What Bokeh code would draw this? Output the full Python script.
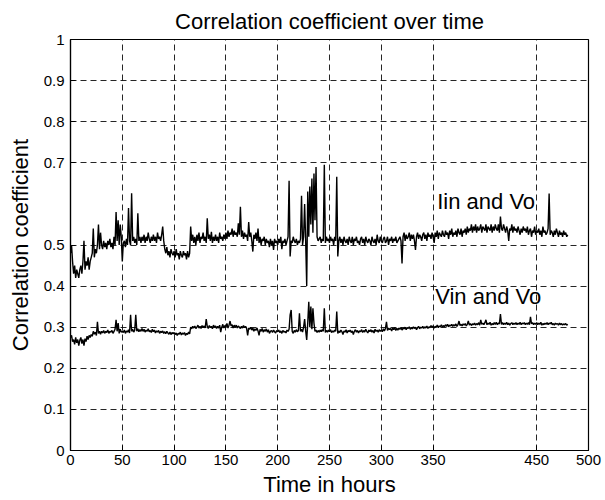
from bokeh.plotting import figure
from bokeh.models import Range1d, FixedTicker, CustomJSTickFormatter, ColumnDataSource
from bokeh.core.properties import value
from bokeh.embed import file_html
from bokeh.resources import INLINE

# ---- data, one value per hour ----
hours = list(range(0, 481))

iin_vo = [
    0.48, 0.50, 0.46, 0.43, 0.45, 0.42, 0.44, 0.43, 0.42, 0.44,
    0.45, 0.43, 0.46, 0.51, 0.44, 0.46, 0.45, 0.47, 0.44, 0.46,
    0.47, 0.48, 0.54, 0.47, 0.49, 0.48, 0.50, 0.55, 0.49, 0.53,
    0.50, 0.49, 0.51, 0.495, 0.505, 0.49, 0.51, 0.50, 0.515, 0.495,
    0.505, 0.49, 0.52, 0.50, 0.58, 0.51, 0.56, 0.50, 0.55, 0.52,
    0.46, 0.505, 0.51, 0.495, 0.515, 0.50, 0.59, 0.51, 0.50, 0.626,
    0.51, 0.52, 0.505, 0.515, 0.50, 0.577, 0.51, 0.52, 0.505, 0.52,
    0.51, 0.525, 0.505, 0.52, 0.51, 0.53, 0.515, 0.505, 0.52, 0.51,
    0.525, 0.51, 0.52, 0.505, 0.53, 0.515, 0.52, 0.51, 0.525, 0.545,
    0.51, 0.49, 0.48, 0.495, 0.475, 0.485, 0.47, 0.49, 0.48, 0.475,
    0.485, 0.47, 0.49, 0.475, 0.48, 0.465, 0.485, 0.475, 0.47, 0.485,
    0.475, 0.48, 0.465, 0.485, 0.47, 0.48, 0.545, 0.51, 0.525, 0.505,
    0.52, 0.50, 0.525, 0.51, 0.53, 0.505, 0.52, 0.515, 0.53, 0.51,
    0.52, 0.505, 0.565, 0.515, 0.525, 0.51, 0.532, 0.505, 0.52, 0.51,
    0.525, 0.51, 0.52, 0.505, 0.53, 0.515, 0.52, 0.51, 0.525, 0.515,
    0.53, 0.515, 0.535, 0.52, 0.53, 0.525, 0.54, 0.52, 0.535, 0.525,
    0.53, 0.52, 0.553, 0.525, 0.593, 0.52, 0.535, 0.515, 0.53, 0.52,
    0.525, 0.51, 0.556, 0.52, 0.53, 0.51, 0.484, 0.525, 0.515, 0.53,
    0.51, 0.54, 0.505, 0.52, 0.50, 0.515, 0.51, 0.52, 0.50, 0.515,
    0.505, 0.51, 0.495, 0.515, 0.50, 0.51, 0.488, 0.515, 0.505, 0.51,
    0.50, 0.515, 0.505, 0.52, 0.49, 0.51, 0.505, 0.515, 0.50, 0.51,
    0.52, 0.656, 0.472, 0.51, 0.505, 0.52, 0.51, 0.505, 0.515, 0.50,
    0.51, 0.505, 0.515, 0.62, 0.50, 0.52, 0.60, 0.51, 0.40, 0.63,
    0.52, 0.642, 0.55, 0.662, 0.53, 0.674, 0.56, 0.69, 0.52, 0.51,
    0.515, 0.52, 0.505, 0.515, 0.51, 0.695, 0.505, 0.52, 0.51, 0.515,
    0.505, 0.52, 0.51, 0.515, 0.50, 0.52, 0.51, 0.666, 0.472, 0.51,
    0.52, 0.505, 0.515, 0.50, 0.52, 0.51, 0.505, 0.515, 0.50, 0.52,
    0.51, 0.505, 0.52, 0.50, 0.515, 0.51, 0.52, 0.505, 0.51, 0.50,
    0.515, 0.52, 0.505, 0.515, 0.50, 0.52, 0.51, 0.505, 0.515, 0.51,
    0.50, 0.52, 0.51, 0.505, 0.515, 0.50, 0.525, 0.51, 0.505, 0.52,
    0.51, 0.505, 0.515, 0.52, 0.505, 0.51, 0.52, 0.50, 0.515, 0.51,
    0.52, 0.505, 0.515, 0.51, 0.52, 0.505, 0.51, 0.515, 0.52, 0.51,
    0.455, 0.52, 0.53, 0.51, 0.525, 0.515, 0.52, 0.53, 0.51, 0.525,
    0.515, 0.525, 0.51, 0.488, 0.52, 0.53, 0.515, 0.525, 0.52, 0.51,
    0.525, 0.53, 0.515, 0.525, 0.51, 0.53, 0.52, 0.525, 0.515, 0.53,
    0.52, 0.505, 0.53, 0.52, 0.535, 0.515, 0.53, 0.525, 0.52, 0.535,
    0.525, 0.52, 0.535, 0.525, 0.53, 0.515, 0.535, 0.525, 0.54, 0.52,
    0.53, 0.525, 0.535, 0.52, 0.54, 0.53, 0.525, 0.54, 0.52, 0.535,
    0.53, 0.54, 0.525, 0.545, 0.53, 0.54, 0.535, 0.55, 0.53, 0.545,
    0.535, 0.55, 0.53, 0.545, 0.535, 0.54, 0.55, 0.53, 0.545, 0.54,
    0.535, 0.55, 0.53, 0.545, 0.54, 0.535, 0.55, 0.53, 0.545, 0.535,
    0.55, 0.54, 0.535, 0.55, 0.53, 0.569, 0.54, 0.535, 0.55, 0.54,
    0.53, 0.545, 0.535, 0.51, 0.54, 0.535, 0.55, 0.53, 0.545, 0.535,
    0.54, 0.53, 0.545, 0.535, 0.525, 0.54, 0.53, 0.545, 0.535, 0.54,
    0.53, 0.545, 0.525, 0.535, 0.54, 0.52, 0.535, 0.53, 0.545, 0.525,
    0.535, 0.53, 0.54, 0.525, 0.535, 0.52, 0.545, 0.53, 0.535, 0.525,
    0.53, 0.54, 0.625, 0.525, 0.535, 0.53, 0.52, 0.535, 0.525, 0.54,
    0.53, 0.52, 0.535, 0.525, 0.53, 0.52, 0.535, 0.525, 0.53, 0.52,
    0.525,
]

vin_vo = [
    0.275, 0.28, 0.265, 0.27, 0.258, 0.275, 0.262, 0.27, 0.255, 0.268,
    0.275, 0.26, 0.27, 0.255, 0.272, 0.265, 0.278, 0.27, 0.28, 0.275,
    0.282, 0.278, 0.29, 0.283, 0.288, 0.28, 0.313, 0.285, 0.29, 0.283,
    0.29, 0.286, 0.292, 0.285, 0.29, 0.287, 0.293, 0.285, 0.29, 0.288,
    0.292, 0.285, 0.29, 0.295, 0.318, 0.29, 0.31, 0.285, 0.295, 0.288,
    0.29, 0.287, 0.293, 0.285, 0.291, 0.288, 0.294, 0.286, 0.33, 0.29,
    0.295, 0.288, 0.293, 0.33, 0.29, 0.296, 0.289, 0.294, 0.29, 0.297,
    0.29, 0.295, 0.288, 0.293, 0.29, 0.296, 0.289, 0.292, 0.287, 0.295,
    0.289, 0.293, 0.286, 0.291, 0.288, 0.292, 0.285, 0.29, 0.287, 0.291,
    0.285, 0.289, 0.284, 0.29, 0.286, 0.283, 0.288, 0.282, 0.287, 0.284,
    0.287, 0.282, 0.286, 0.28, 0.285, 0.283, 0.288, 0.281, 0.286, 0.283,
    0.287, 0.28, 0.285, 0.282, 0.288, 0.284, 0.30, 0.296, 0.302, 0.298,
    0.303, 0.297, 0.30, 0.305, 0.298, 0.302, 0.297, 0.304, 0.299, 0.303,
    0.298, 0.32, 0.302, 0.297, 0.304, 0.299, 0.302, 0.296, 0.305, 0.30,
    0.303, 0.297, 0.302, 0.298, 0.305, 0.288, 0.30, 0.307, 0.298, 0.304,
    0.30, 0.309, 0.298, 0.305, 0.315, 0.303, 0.306, 0.298, 0.305, 0.30,
    0.305, 0.298, 0.303, 0.30, 0.297, 0.302, 0.298, 0.304, 0.299, 0.302,
    0.297, 0.28, 0.298, 0.295, 0.30, 0.293, 0.298, 0.29, 0.296, 0.292,
    0.298, 0.291, 0.28, 0.295, 0.29, 0.297, 0.288, 0.294, 0.29, 0.296,
    0.288, 0.294, 0.285, 0.29, 0.292, 0.287, 0.293, 0.289, 0.286, 0.292,
    0.289, 0.293, 0.287, 0.291, 0.285, 0.292, 0.288, 0.29, 0.286, 0.293,
    0.29, 0.295, 0.33, 0.342, 0.29, 0.285, 0.292, 0.288, 0.294, 0.289,
    0.292, 0.334, 0.29, 0.295, 0.288, 0.30, 0.32, 0.291, 0.269, 0.31,
    0.362, 0.30, 0.35, 0.295, 0.346, 0.31, 0.29, 0.293, 0.287, 0.292,
    0.288, 0.293, 0.289, 0.294, 0.29, 0.346, 0.287, 0.292, 0.288, 0.293,
    0.289, 0.294, 0.287, 0.291, 0.288, 0.293, 0.29, 0.338, 0.285, 0.291,
    0.287, 0.293, 0.289, 0.282, 0.291, 0.288, 0.294, 0.286, 0.292, 0.289,
    0.293, 0.287, 0.291, 0.282, 0.29, 0.294, 0.288, 0.292, 0.286, 0.291,
    0.289, 0.294, 0.287, 0.292, 0.288, 0.295, 0.29, 0.286, 0.293, 0.289,
    0.294, 0.288, 0.292, 0.286, 0.295, 0.29, 0.293, 0.288, 0.294, 0.29,
    0.293, 0.289, 0.296, 0.291, 0.297, 0.313, 0.292, 0.298, 0.294, 0.297,
    0.291, 0.298, 0.294, 0.299, 0.292, 0.297, 0.293, 0.298, 0.295, 0.299,
    0.293, 0.298, 0.296, 0.30, 0.294, 0.299, 0.297, 0.301, 0.295, 0.299,
    0.296, 0.301, 0.297, 0.30, 0.294, 0.299, 0.302, 0.296, 0.30, 0.298,
    0.302, 0.297, 0.301, 0.298, 0.303, 0.297, 0.301, 0.299, 0.304, 0.30,
    0.303, 0.298, 0.302, 0.30, 0.305, 0.299, 0.303, 0.301, 0.306, 0.30,
    0.304, 0.301, 0.306, 0.302, 0.307, 0.301, 0.305, 0.303, 0.307, 0.302,
    0.306, 0.303, 0.308, 0.302, 0.306, 0.315, 0.304, 0.307, 0.303, 0.308,
    0.305, 0.309, 0.303, 0.307, 0.315, 0.305, 0.309, 0.304, 0.308, 0.306,
    0.31, 0.305, 0.309, 0.306, 0.311, 0.305, 0.318, 0.307, 0.31, 0.306,
    0.311, 0.318, 0.306, 0.31, 0.307, 0.312, 0.305, 0.309, 0.306, 0.311,
    0.307, 0.312, 0.306, 0.31, 0.308, 0.332, 0.307, 0.311, 0.306, 0.31,
    0.307, 0.312, 0.306, 0.31, 0.305, 0.309, 0.311, 0.306, 0.31, 0.307,
    0.311, 0.306, 0.31, 0.307, 0.312, 0.306, 0.31, 0.308, 0.311, 0.306,
    0.31, 0.307, 0.311, 0.306, 0.325, 0.308, 0.311, 0.306, 0.31, 0.307,
    0.311, 0.306, 0.31, 0.307, 0.312, 0.305, 0.309, 0.306, 0.31, 0.307,
    0.311, 0.306, 0.31, 0.308, 0.312, 0.306, 0.309, 0.305, 0.31, 0.307,
    0.309, 0.305, 0.31, 0.306, 0.309, 0.305, 0.308, 0.306, 0.309, 0.305,
    0.307,
]

x_ticks = [0, 50, 100, 150, 200, 250, 300, 350, 450, 500]
y_ticks = [0, 0.1, 0.2, 0.3, 0.4, 0.5, 0.7, 0.8, 0.9, 1]

label_text = ["Iin and Vo", "Vin and Vo"]
label_x = [354, 352]
label_y = [0.605, 0.375]

assert len(iin_vo) == len(hours) and len(vin_vo) == len(hours)

FONT = "Liberation Sans"

p = figure(width=605, height=500, output_backend="svg", toolbar_location=None,
           x_range=Range1d(0, 500), y_range=Range1d(0, 1),
           title="Correlation coefficient over time")
p.min_border_left = 70
p.min_border_right = 17
p.min_border_top = 38
p.min_border_bottom = 50

p.title.align = "center"
p.title.text_font = FONT
p.title.text_font_size = "22px"
p.title.text_font_style = "normal"
p.title.text_color = "black"
p.title.standoff = 12

p.outline_line_color = "black"
p.outline_line_width = 1.2
p.outline_line_alpha = 1
p.background_fill_color = "white"
p.border_fill_color = "white"

fmt = CustomJSTickFormatter(code="return tick.toString();")
p.xaxis.ticker = FixedTicker(ticks=x_ticks)
p.yaxis.ticker = FixedTicker(ticks=y_ticks)
p.xaxis.formatter = fmt
p.yaxis.formatter = fmt

for ax in (p.xaxis[0], p.yaxis[0]):
    ax.major_tick_in = 5
    ax.major_tick_out = 0
    ax.minor_tick_in = 0
    ax.minor_tick_out = 0
    ax.axis_line_color = "black"
    ax.axis_line_width = 1.2
    ax.major_tick_line_color = "black"
    ax.major_label_text_font = FONT
    ax.major_label_text_font_size = "15px"
    ax.major_label_text_color = "black"
    ax.axis_label_text_font = FONT
    ax.axis_label_text_font_size = "22px"
    ax.axis_label_text_font_style = "normal"
    ax.axis_label_text_color = "black"

p.xaxis.axis_label = "Time in hours"
p.yaxis.axis_label = "Correlation coefficient"
p.xaxis.major_label_standoff = 4
p.yaxis.major_label_standoff = 6
p.xaxis.axis_label_standoff = 4
p.yaxis.axis_label_standoff = 8

for g in (p.xgrid[0], p.ygrid[0]):
    g.grid_line_color = "black"
    g.grid_line_alpha = 0.85
    g.grid_line_width = 1
    g.grid_line_dash = "6 4"
p.xgrid.ticker = FixedTicker(ticks=x_ticks)
p.ygrid.ticker = FixedTicker(ticks=y_ticks)

src = ColumnDataSource(dict(t=hours, iin=iin_vo, vin=vin_vo))
p.line("t", "iin", source=src, line_color="black", line_width=1.4)
p.line("t", "vin", source=src, line_color="black", line_width=1.4)

lsrc = ColumnDataSource(dict(x=label_x, y=label_y, text=label_text))
p.text("x", "y", text="text", source=lsrc, text_font=value(FONT),
       text_font_size="22px", text_color="black", text_baseline="alphabetic",
       text_align="left")

open("out.html", "w").write(file_html(p, INLINE))
